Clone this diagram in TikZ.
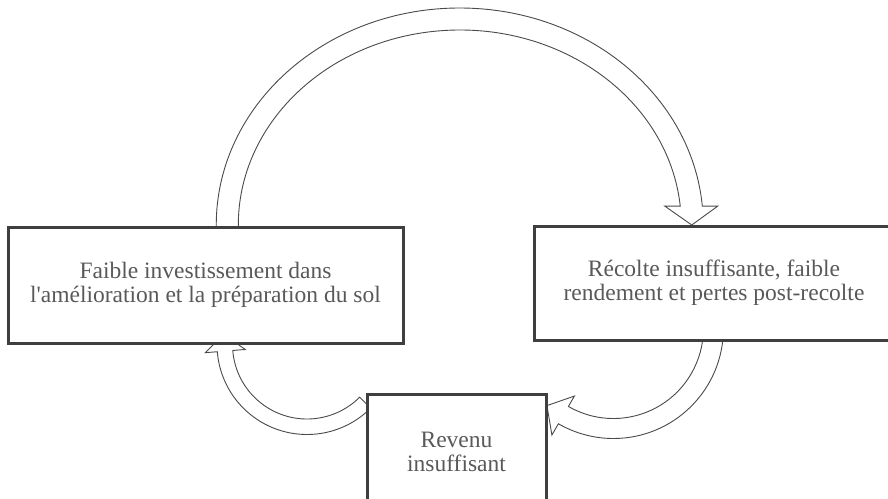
\documentclass[tikz,border=0pt]{standalone}
\usepackage{fontspec}
\setmainfont{Liberation Serif}
\usetikzlibrary{calc,backgrounds}
\definecolor{boxgray}{HTML}{3F3F3F}
\definecolor{txtgray}{HTML}{595959}
\definecolor{arrgray}{HTML}{4A4A4A}

\begin{document}
\begin{tikzpicture}[x=1pt, y=-1pt,
    box/.style={draw=boxgray, line width=3pt, fill=white, align=center, text=txtgray,
      inner sep=0pt, font=\fontsize{23.5}{24}\selectfont},
    hollow/.style={draw=arrgray, line width=0.9pt, fill=white, line join=miter}]
  \useasboundingbox (0,0) rectangle (888,498);

  % Boxes
  \node[box, minimum width=395pt, minimum height=116pt] (invest) at (205.5,285)
    {Faible investissement dans\\l\textquotesingle amélioration et la préparation du sol};
  \node[box, minimum width=360pt, minimum height=114pt] (recolte) at (714,283)
    {Récolte insuffisante, faible\\rendement et pertes post-recolte};
  \node[box, minimum width=179pt, minimum height=115pt] (revenu) at (456.5,451.5)
    {Revenu\\insuffisant};

  \begin{scope}[on background layer]
    % Top arrow: invest -> recolte
    \coordinate (ctop) at ($(invest.north)!0.5!(recolte.north)$);
    \draw[hollow] ($(ctop)+(-243.5pt,-8pt)$) -- ($(ctop)+(180:243.5pt)$)
      arc[start angle=180, end angle=5, x radius=243.5pt, y radius=217pt]
      -- ($(ctop)+(258pt,18.9pt)$) -- ($(ctop)+(232pt,0pt)$) -- ($(ctop)+(205pt,18.9pt)$)
      -- ($(ctop)+(220.5pt,18.9pt)$)
      arc[start angle=5.56, end angle=180, x radius=221.5pt, y radius=195pt]
      -- ($(ctop)+(-221.5pt,-8pt)$) -- cycle;

    % Right arrow: recolte -> revenu
    \coordinate (cright) at ($(recolte.south)+(-100.6pt,13pt)$);
    \coordinate (tipright) at ($(cright)+(-120:100pt)+(150:19pt)$);
    \draw[hollow] ($(cright)+(0:110pt)$) arc[start angle=0, end angle=-120, radius=110pt]
      -- ($(cright)+(-120:123pt)$) -- (tipright) -- ($(cright)+(-120:78pt)$)
      -- ($(cright)+(-120:90pt)$) arc[start angle=-120, end angle=0, radius=90pt] -- cycle;

    % Left arrow: revenu -> invest
    \coordinate (cleft) at ($(invest.south)+(101.5pt,0pt)$);
    \coordinate (tipleft) at ($(cleft)+(-175.4:82.25pt)+(94.6:17pt)$);
    \draw[hollow] ($(cleft)+(-45:90pt)$) arc[start angle=-45, end angle=-175.4, radius=90pt]
      -- ($(cleft)+(-175.4:102pt)$) -- (tipleft) -- ($(cleft)+(-175.4:62pt)$)
      -- ($(cleft)+(-175.4:74.5pt)$) arc[start angle=-175.4, end angle=-45, radius=74.5pt] -- cycle;
  \end{scope}
\end{tikzpicture}
\end{document}
